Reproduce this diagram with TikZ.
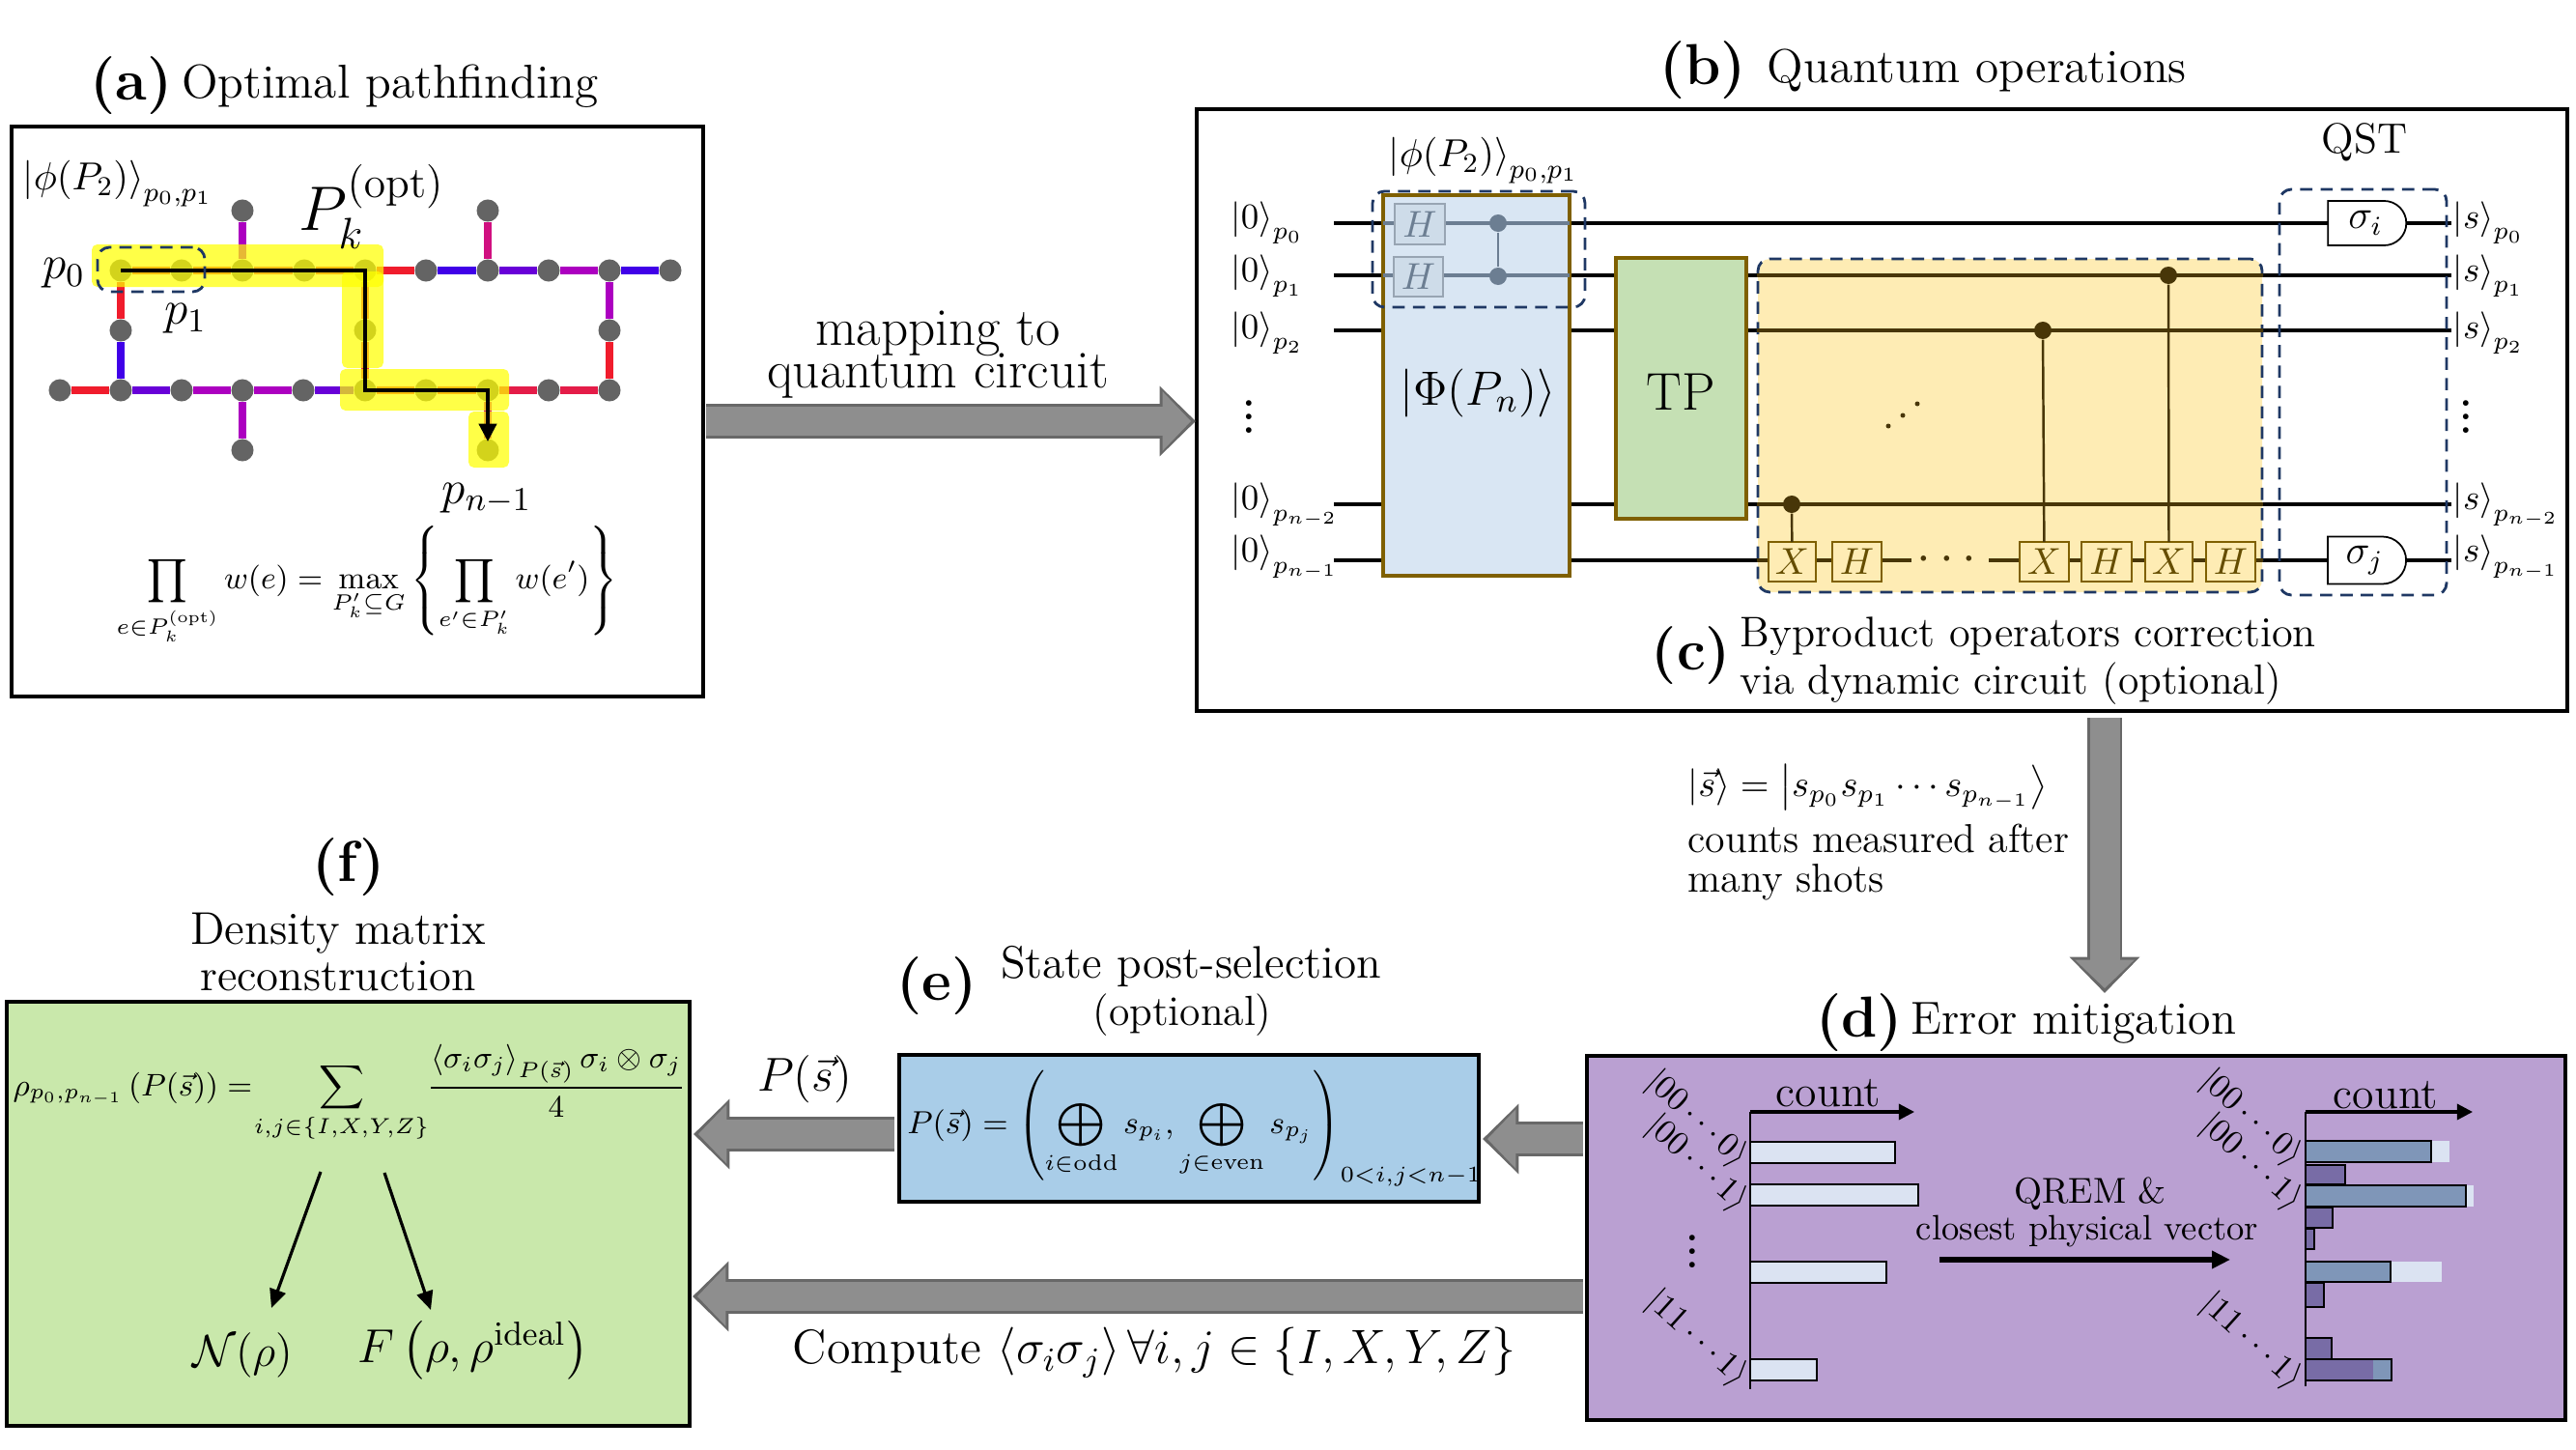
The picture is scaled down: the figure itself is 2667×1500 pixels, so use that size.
\documentclass[tikz,border=0pt]{standalone}
\usepackage{fix-cm}
\usepackage{amsmath}
\usepackage{xcolor}
\usetikzlibrary{positioning, calc, fit, arrows.meta, shapes.misc}
\definecolor{edgered}{RGB}{240,28,44}
\definecolor{edgeblue}{RGB}{64,0,232}
\definecolor{edgeviolet}{RGB}{104,0,216}
\definecolor{edgepurple}{RGB}{172,0,192}
\definecolor{edgemagenta}{RGB}{208,16,128}
\definecolor{edgecrim}{RGB}{228,28,72}
\definecolor{nodegray}{RGB}{100,100,100}
\definecolor{hilite}{RGB}{255,255,0}
\definecolor{navy}{RGB}{31,56,100}
\definecolor{brownline}{RGB}{127,96,0}
\definecolor{darkbrown}{RGB}{72,54,8}
\definecolor{phiblue}{RGB}{217,230,243}
\definecolor{tpgreen}{RGB}{197,224,180}
\definecolor{corryellow}{RGB}{254,236,180}
\definecolor{gatefaint}{RGB}{108,126,146}
\definecolor{pfill}{RGB}{186,160,210}
\definecolor{efill}{RGB}{169,205,232}
\definecolor{ffill}{RGB}{201,232,171}
\definecolor{barlight}{RGB}{219,227,242}
\definecolor{barmid}{RGB}{127,150,184}
\definecolor{bardark}{RGB}{120,108,166}
\definecolor{arrowgray}{RGB}{142,142,142}
\definecolor{arrowedge}{RGB}{104,104,104}
\newcommand{\fs}[1]{\fontsize{#1}{#1}\selectfont}
\newcommand{\ket}[1]{\left|#1\right\rangle}
\tikzset{
  panel/.style={draw=black, line width=1.2pt, inner sep=0pt, outer sep=0pt},
  qnode/.style={circle, fill=nodegray, inner sep=0pt, minimum size=0.23cm},
  qedge/.style={line width=2.4pt},
  glow/.style={fill=hilite, fill opacity=0.72, rounded corners=1.6pt},
  dashbox/.style={draw=navy, line width=0.8pt, dash pattern=on 3.6pt off 2.4pt, rounded corners=3.5pt},
  wire/.style={line width=1.05pt},
  brownbox/.style={draw=brownline, line width=0.9pt, inner sep=0pt, outer sep=0pt},
  gatebox/.style={draw=brownline, line width=0.4pt, fill=corryellow, inner sep=0pt, outer sep=0pt},
  gatelab/.style={inner sep=0pt, text=brownline!80!black, font=\fs{11}},
  fadebox/.style={draw=gatefaint!70, line width=0.6pt, fill=phiblue!90!gatefaint, inner sep=0pt, outer sep=0pt},
  fadelab/.style={inner sep=0pt, text=gatefaint, font=\fs{11}},
  ctrl/.style={circle, fill=darkbrown, inner sep=0pt, minimum size=0.18cm},
  measgate/.style={rounded rectangle, rounded rectangle west arc=none, draw=black, line width=0.5pt, fill=white, inner sep=0pt, outer sep=0pt, minimum width=0.81cm, font=\fs{12}},
  bigarrow/.style={line width=10.4pt, draw=arrowedge, -{Triangle[length=10.6pt, width=20pt, fill=arrowedge]},
    postaction={draw=arrowgray, line width=8.8pt, shorten >=1.4pt, -{Triangle[length=8.4pt, width=17pt, fill=arrowgray]}}},
  thinarrow/.style={line width=0.9pt, -{Triangle[length=4.6pt, width=4.6pt]}},
  barbox/.style={draw=black, line width=0.8pt},
  title/.style={font=\fs{14}, inner sep=0pt},
  tag/.style={font=\fs{17}\bfseries, inner sep=0pt},
}
\begin{document}
\begin{tikzpicture}[x=0.01cm, y=-0.01cm]
  \useasboundingbox (0,0) rectangle (2667,1500);

  % PANEL A: path on the device graph
  \node[tag] (taga) at (136,89) {(a)};
  \node[title] (titlea) at (404,89) {Optimal pathfinding};
  \node[panel, fit={(12,131) (728,721)}] (panela) {};
  \foreach \n/\x/\y in {%
    t0/125/280, t1/188/280, t2/251/280, t3/315/280, t4/378/280,
    t5/441/280, t6/505/280, t7/568/280, t8/631/280, t9/694/280,
    m0/125/342, m4/378/342, m8/631/342,
    l9/62/404,  l0/125/404, l1/188/404, l2/251/404, l3/314/404, l4/378/404,
    l5/441/404, l6/505/404, l7/568/404, l8/631/404,
    ua/251/218, ub/505/218, da/251/466, db/505/466}
    \node[qnode] (\n) at (\x,\y) {};
  \foreach \a/\b/\c in {%
    t0/t1/edgered, t1/t2/edgered, t2/t3/edgecrim, t3/t4/edgered, t4/t5/edgered,
    t5/t6/edgeblue, t6/t7/edgeviolet, t7/t8/edgepurple, t8/t9/edgeblue,
    t0/m0/edgered, m0/l0/edgeblue, t4/m4/edgecrim, m4/l4/edgecrim,
    t8/m8/edgepurple, m8/l8/edgered, ua/t2/edgepurple, ub/t6/edgemagenta,
    l9/l0/edgered, l0/l1/edgeviolet, l1/l2/edgepurple, l2/l3/edgepurple,
    l3/l4/edgeviolet, l4/l5/edgered, l5/l6/edgered, l6/l7/edgecrim, l7/l8/edgecrim,
    l2/da/edgepurple, l6/db/edgemagenta}
    \draw[qedge, draw=\c] (\a) -- (\b);
  % highlight over the path
  \foreach \xa/\ya/\xb/\yb in {95/253/397/297, 354/281/397/381, 352/382/527/425, 485/426/527/484}
    \fill[glow] (\xa,\ya) rectangle (\xb,\yb);
  \draw[line width=0.9pt, -{Triangle[length=5.2pt, width=5.2pt]}, shorten >=0.09cm]
    (t0.center) -- (t4.center) -- (l4.center) -- (l6.center) -- (db.center);
  \node[dashbox, inner sep=0pt, fit={(101,256) (212,302)}] (pairbox) {};
  \node[font=\fs{11.5}, inner sep=0pt] (phia) at (122,190) {$\ket{\phi(P_2)}_{p_0,p_1}$};
  \node[font=\fs{18.5}, inner sep=0pt] (popt) at (385,214) {$P_k^{(\mathrm{opt})}$};
  \node[font=\fs{14}, inner sep=0pt] (pzero) at (66,283) {$p_0$};
  \node[font=\fs{14}, inner sep=0pt] (pone) at (192,330) {$p_1$};
  \node[font=\fs{14}, inner sep=0pt] (plast) at (504,516) {$p_{n-1}$};
  \node[font=\fs{9.3}, inner sep=0pt] (eqa) at (380,606)
    {$\displaystyle\prod_{e\in P_k^{(\mathrm{opt})}} w(e)=\max_{P_k'\subseteq G}\left\{\prod_{e'\in P_k'} w(e')\right\}$};

  % PANEL B: circuit
  \node[tag] (tagb) at (1763,73) {(b)};
  \node[title, anchor=west] (titleb) at (1829,73) {Quantum operations};
  \node[panel, fit={(1239,113) (2658,736)}] (panelb) {};
  % wires, under the boxes
  \foreach \q/\y in {0/231, 1/285, 2/342, 3/522, 4/580} {
    \coordinate (wl\q) at (1381,\y);
    \coordinate (wr\q) at (2538,\y);
    \draw[wire] (wl\q) -- (wr\q);
  }
  \foreach \q/\y/\s in {0/231/p_0, 1/286/p_1, 2/345/p_2, 3/523/p_{n-2}, 4/577/p_{n-1}} {
    \node[font=\fs{10.5}, inner sep=0pt, anchor=west] (inl\q) at (1274,\y) {$\ket{0}_{\s}$};
    \node[font=\fs{10.5}, inner sep=0pt, anchor=west] (outl\q) at (2539,\y) {$\ket{s}_{\s}$};
  }
  \node[font=\fs{20}, inner sep=0pt] (vdl) at (1293,421) {$\vdots$};
  \node[font=\fs{20}, inner sep=0pt] (vdr) at (2553,421) {$\vdots$};
  % state preparation
  \node[brownbox, fill=phiblue, fit={(1432,202) (1625,596)}] (phibox) {};
  \node[font=\fs{14.2}, inner sep=0pt] (philab) at (1530,407) {$\ket{\Phi(P_n)}$};
  \foreach \q in {0,1}
    \draw[line width=1.05pt, draw=gatefaint] (phibox.west |- wl\q) -- (phibox.east |- wl\q);
  \node[fadebox, fit={(1444,211) (1496,253)}] (hzero) {};
  \node[fadelab] (hzerolab) at (hzero.center) {$H$};
  \node[fadebox, fit={(1443,266) (1494,307)}] (hone) {};
  \node[fadelab] (honelab) at (hone.center) {$H$};
  \node[circle, fill=gatefaint, inner sep=0pt, minimum size=0.18cm] (cza) at (1551,231) {};
  \node[circle, fill=gatefaint, inner sep=0pt, minimum size=0.18cm] (czb) at (1551,286) {};
  \draw[line width=0.8pt, draw=gatefaint] (cza) -- (czb);
  \node[dashbox, inner sep=0pt, fit={(1421,198) (1641,318)}] (pairboxb) {};
  \node[font=\fs{11.5}, inner sep=0pt] (phib) at (1536,166) {$\ket{\phi(P_2)}_{p_0,p_1}$};
  % transpile
  \node[brownbox, fill=tpgreen, fit={(1673,267) (1808,537)}] (tpbox) {};
  \node[font=\fs{15.6}, inner sep=0pt] (tplab) at ($(tpbox.center)+(0,4)$) {TP};

  % PANEL C: byproduct correction
  \node[dashbox, fill=corryellow, inner sep=0pt, fit={(1820,268) (2342,613)}] (corrbox) {};
  \foreach \q in {1,2,3}
    \draw[wire, draw=darkbrown] (corrbox.west |- wl\q) -- (corrbox.east |- wl\q);
  \coordinate (gapl) at (1979,580);
  \coordinate (gapr) at (2059,580);
  \draw[wire, draw=darkbrown] (corrbox.west |- wl4) -- (gapl);
  \draw[wire, draw=darkbrown] (gapr) -- (corrbox.east |- wl4);
  \node[inner sep=0pt, font=\fs{15}, text=darkbrown] (gapdots) at (2020,580) {$\cdots$};
  \foreach \n/\xa/\xb/\t in {xa/1831/1880/X, ha/1897/1948/H, xb/2091/2142/X, hb/2155/2207/H, xc/2221/2270/X, hc/2284/2335/H} {
    \node[gatebox, fit={(\xa,561) (\xb,602)}] (\n) {};
    \node[gatelab] (\n lab) at (\n.center) {$\t$};
  }
  \foreach \n/\x/\y in {ca/1855/522, cb/2115/342, cc/2245/285}
    \node[ctrl] (\n) at (\x,\y) {};
  \foreach \a/\b in {ca/xa, cb/xb, cc/xc}
    \draw[line width=0.7pt, draw=darkbrown] (\a) -- (\b);
  \foreach \n/\x/\y in {da/1955/441, db/1970/430, dc/1985/418}
    \node[circle, fill=darkbrown, inner sep=0pt, minimum size=0.05cm] (dot\n) at (\x,\y) {};
  \node[tag] (tagc) at (1751,679) {(c)};
  \node[title, font=\fs{12.6}, anchor=west] (titlec) at (1801,659) {Byproduct operators correction};
  \node[title, font=\fs{12.4}, anchor=west] (titlecb) at (1801,708) {via dynamic circuit (optional)};
  % tomography
  \node[dashbox, inner sep=0pt, fit={(2360,196) (2533,616)}] (qstbox) {};
  \node[title, font=\fs{12.5}] (qst) at (2448,147) {QST};
  \node[measgate, minimum height=0.46cm] (sigi) at (2449,231) {$\sigma_i$};
  \node[measgate, minimum height=0.49cm] (sigj) at (2448,580) {$\sigma_j$};

  % between panels
  \coordinate (abtail) at (731,436);
  \coordinate (abhead) at (1238,436);
  \draw[bigarrow] (abtail) -- (abhead);
  \node[title, font=\fs{15.7}] (mapa) at (971,345) {mapping to};
  \node[title, font=\fs{15.7}] (mapb) at (971,389) {quantum circuit};
  \coordinate (bdtail) at (2179,743);
  \coordinate (bdhead) at (2179,1028);
  \draw[bigarrow] (bdtail) -- (bdhead);
  \node[font=\fs{10.9}, inner sep=0pt, anchor=west] (keta) at (1747,815) {$\ket{\vec{s}}=\ket{s_{p_0}s_{p_1}\cdots s_{p_{n-1}}}$};
  \node[font=\fs{11.9}, inner sep=0pt, anchor=west] (ketb) at (1747,868) {counts measured after};
  \node[font=\fs{11.9}, inner sep=0pt, anchor=west] (ketc) at (1747,913) {many shots};

  % PANEL D: error mitigation
  \node[tag] (tagd) at (1925,1059) {(d)};
  \node[title, font=\fs{13.6}, anchor=west] (titled) at (1978,1059) {Error mitigation};
  \node[panel, fill=pfill, fit={(1643,1093) (2656,1470)}] (paneld) {};
  \coordinate (ltop) at (1812,1151);
  \coordinate (lbot) at (1812,1438);
  \coordinate (ltip) at (1982,1151);
  \coordinate (rtop) at (2387,1151);
  \coordinate (rbot) at (2387,1435);
  \coordinate (rtip) at (2560,1151);
  % left bars
  \foreach \xb/\ya/\yb in {1962/1182/1204, 1986/1226/1248, 1953/1306/1328, 1881/1407/1429}
    \draw[barbox, fill=barlight] (1812,\ya) rectangle (\xb,\yb);
  % right bars, light part first
  \foreach \xb/\ya/\yb in {2536/1181/1203, 2561/1227/1249, 2528/1306/1327}
    \fill[barlight] (2387,\ya) rectangle (\xb,\yb);
  \foreach \xb/\ya/\yb in {2517/1181/1203, 2553/1227/1249, 2475/1306/1327, 2476/1407/1429}
    \draw[barbox, fill=barmid] (2387,\ya) rectangle (\xb,\yb);
  \foreach \xb/\ya/\yb in {2428/1206/1226, 2415/1250/1271, 2396/1272/1293, 2406/1328/1353, 2414/1385/1407}
    \draw[barbox, fill=bardark] (2387,\ya) rectangle (\xb,\yb);
  \fill[bardark] (2388,1408) rectangle (2457,1428);
  \draw[line width=0.8pt] (lbot) -- (ltop);
  \draw[thinarrow] (ltop) -- (ltip);
  \draw[line width=0.8pt] (rbot) -- (rtop);
  \draw[thinarrow] (rtop) -- (rtip);
  \node[font=\fs{13}, inner sep=0pt] (counta) at (1893,1132) {count};
  \node[font=\fs{13}, inner sep=0pt] (countb) at (2470,1134) {count};
  \foreach \n/\x/\y/\t in {%
    sa/1757/1159/00\cdots0, sb/1757/1205/00\cdots1, sc/1757/1386/11\cdots1,
    se/2331/1158/00\cdots0, sf/2331/1204/00\cdots1, sg/2331/1389/11\cdots1}
    \node[font=\fs{10}, inner sep=0pt, rotate=-42] (\n) at (\x,\y) {$\ket{\t}$};
  \node[font=\fs{20}, inner sep=0pt] (vdd) at (1752,1285) {$\vdots$};
  \node[font=\fs{10.6}, inner sep=0pt] (qrema) at (2164,1236) {QREM \&};
  \node[font=\fs{10.4}, inner sep=0pt] (qremb) at (2161,1275) {closest physical vector};
  \coordinate (qtail) at (2008,1304);
  \coordinate (qhead) at (2309,1304);
  \draw[line width=1.7pt, -{Triangle[length=5.4pt, width=5pt]}] (qtail) -- (qhead);

  % PANEL E: post-selection
  \node[tag] (tage) at (970,1021) {(e)};
  \node[title, font=\fs{13.4}] (titlee) at (1233,1000) {State post-selection};
  \node[title, font=\fs{12.4}] (titleeb) at (1224,1051) {(optional)};
  \node[panel, fill=efill, fit={(931,1092) (1531,1244)}] (panele) {};
  \node[font=\fs{9.4}, inner sep=0pt] (eqe) at (1237,1168)
    {$\displaystyle P(\vec{s})=\left(\bigoplus_{i\in\mathrm{odd}} s_{p_i},\bigoplus_{j\in\mathrm{even}} s_{p_j}\right)_{0<i,j<n-1}$};
  \coordinate (detail) at (1639,1179);
  \coordinate (dehead) at (1535,1179);
  \draw[bigarrow] (detail) -- (dehead);
  \coordinate (eftail) at (926,1174);
  \coordinate (efhead) at (718,1174);
  \draw[bigarrow] (eftail) -- (efhead);
  \node[font=\fs{14}, inner sep=0pt] (ps) at (833,1117) {$P(\vec{s})$};
  \coordinate (dftail) at (1639,1342);
  \coordinate (dfhead) at (717,1342);
  \draw[bigarrow] (dftail) -- (dfhead);
  \node[font=\fs{14.2}, inner sep=0pt] (compute) at (1195,1400) {Compute $\langle\sigma_i\sigma_j\rangle\,\forall i,j\in\{I,X,Y,Z\}$};

  % PANEL F: reconstruction
  \node[tag] (tagf) at (361,898) {(f)};
  \node[title, font=\fs{13.5}] (titlef) at (350,966) {Density matrix};
  \node[title, font=\fs{13.3}] (titlefb) at (350,1010) {reconstruction};
  \node[panel, fill=ffill, fit={(7,1037) (714,1476)}] (panelf) {};
  \node[font=\fs{9.2}, inner sep=0pt, anchor=west] (eqf) at (13,1132)
    {$\displaystyle\rho_{p_0,p_{n-1}}\left(P(\vec{s})\right)=\mkern-4mu\sum_{i,j\in\{I,X,Y,Z\}}\mkern-4mu\frac{\left\langle\sigma_i\sigma_j\right\rangle_{P(\vec{s})}\sigma_i\otimes\sigma_j}{4}$};
  \node[font=\fs{13.2}, inner sep=0pt] (noise) at (251,1403) {$\mathcal{N}(\rho)$};
  \node[font=\fs{14}, inner sep=0pt] (fid) at (490,1398) {$F\left(\rho,\rho^{\mathrm{ideal}}\right)$};
  \coordinate (fa) at (332,1213);
  \coordinate (fb) at (398,1214);
  \coordinate (na) at (281,1354);
  \coordinate (nb) at (446,1356);
  \draw[line width=0.9pt, -{Triangle[length=5.5pt, width=4.8pt]}] (fa) -- (na);
  \draw[line width=0.9pt, -{Triangle[length=5.5pt, width=4.8pt]}] (fb) -- (nb);
\end{tikzpicture}
\end{document}
